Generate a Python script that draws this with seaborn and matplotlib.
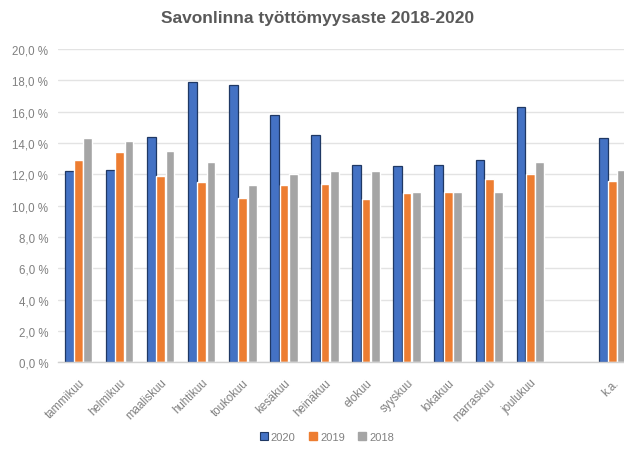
import matplotlib
matplotlib.use("Agg")
import matplotlib.pyplot as plt
import matplotlib.patches as mpatches
import seaborn as sns
import pandas as pd
import numpy as np

categories = ["tammikuu", "helmikuu", "maaliskuu", "huhtikuu", "toukokuu", "kesäkuu",
              "heinäkuu", "elokuu", "syyskuu", "lokakuu", "marraskuu", "joulukuu", "", "k.a."]
series = ["2020", "2019", "2018"]
values_2020 = [12.2, 12.3, 14.4, 17.9, 17.7, 15.8, 14.5, 12.6, 12.5, 12.6, 12.9, 16.3, None, 14.3]
values_2019 = [12.9, 13.4, 11.9, 11.5, 10.5, 11.3, 11.4, 10.4, 10.8, 10.9, 11.7, 12.0, None, 11.6]
values_2018 = [14.3, 14.1, 13.5, 12.8, 11.3, 12.0, 12.2, 12.2, 10.9, 10.9, 10.9, 12.8, None, 12.3]
y_ticks = [0, 2, 4, 6, 8, 10, 12, 14, 16, 18, 20]
y_tick_labels = ["0,0 %", "2,0 %", "4,0 %", "6,0 %", "8,0 %", "10,0 %", "12,0 %",
                 "14,0 %", "16,0 %", "18,0 %", "20,0 %"]
title = "Savonlinna työttömyysaste 2018-2020"
colors = ["#4472C4", "#ED7D31", "#A5A5A5"]

rows = []
for s, vals in zip(series, [values_2020, values_2019, values_2018]):
    for c, v in zip(categories, vals):
        if v is not None:
            rows.append({"kuukausi": c, "vuosi": s, "arvo": v})
df = pd.DataFrame(rows)

sns.set_theme(style="white")
plt.rcParams["font.family"] = ["Liberation Sans", "DejaVu Sans"]

fig = plt.figure(figsize=(6.24, 4.52), dpi=100)
ax = fig.add_axes([58 / 624, 88.7 / 452, 575 / 624, 313.3 / 452])

sns.barplot(data=df, x="kuukausi", y="arvo", hue="vuosi", order=categories,
            hue_order=series, palette=colors, width=0.68, gap=0.06,
            errorbar=None, ax=ax, legend=False, saturation=1)

for p in ax.containers[0]:
    p.set_edgecolor("#1F3864")
    p.set_linewidth(0.9)

ax.set_xlim(-0.5, len(categories) - 0.5)
ax.set_ylim(0, 20)
ax.set_yticks(y_ticks)
ax.set_yticklabels(y_tick_labels, fontsize=8.3, color="#808080")
ax.set_xticks(range(len(categories)))
ax.set_xticklabels(categories, rotation=45, ha="right", rotation_mode="anchor",
                   fontsize=8.3, color="#808080")
ax.tick_params(axis="y", length=0, pad=7)
ax.tick_params(axis="x", length=0, pad=10)
ax.set_xlabel("")
ax.set_ylabel("")
ax.grid(axis="y", color="#E3E3E3", linewidth=1)
ax.set_axisbelow(True)
for side in ["top", "right", "left"]:
    ax.spines[side].set_visible(False)
ax.spines["bottom"].set_color("#D0D0D0")
ax.spines["bottom"].set_linewidth(1)

fig.text(318 / 624, 1 - 18 / 452, title, ha="center", va="center", fontsize=12.5,
         fontweight="bold", color="#595959")

handles = [mpatches.Patch(facecolor=colors[0], edgecolor="#1F3864", linewidth=0.8, label=series[0]),
           mpatches.Patch(facecolor=colors[1], edgecolor=colors[1], label=series[1]),
           mpatches.Patch(facecolor=colors[2], edgecolor=colors[2], label=series[2])]
leg = fig.legend(handles=handles, loc="center", bbox_to_anchor=(327 / 624, 1 - 438 / 452),
                 ncol=3, frameon=False, fontsize=8, handlelength=0.7, handleheight=0.7,
                 handletextpad=0.3, columnspacing=1.2)
for t in leg.get_texts():
    t.set_color("#808080")

fig.savefig("out.png", dpi=100)
